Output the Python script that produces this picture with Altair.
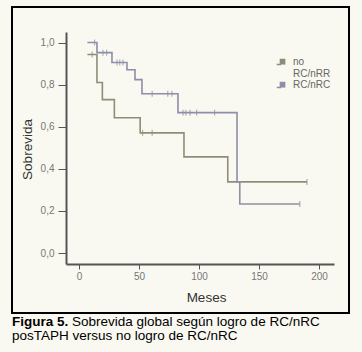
import altair as alt
import pandas as pd

# ---- data ----
series_names = ["no RC/nRR", "RC/nRC"]
series_colors = ["#8e8e78", "#8e8ea8"]

t_no = [7, 15, 19.5, 29.5, 51, 87.5, 124, 190]
s_no = [0.943, 0.81, 0.729, 0.643, 0.571, 0.457, 0.338, 0.338]
cens_no = [11, 53, 61, 190]

t_rc = [7, 15, 27.5, 40, 46.7, 52.5, 82.5, 131.7, 134, 184]
s_rc = [1.0, 0.952, 0.905, 0.871, 0.824, 0.757, 0.667, 0.338, 0.233, 0.233]
cens_rc = [13, 20, 23, 31.7, 34, 36.7, 61, 74, 77.5, 86.7, 89, 92.5, 98, 113, 184]

x_ticks = [0, 50, 100, 150, 200]
y_ticks = [0.0, 0.2, 0.4, 0.6, 0.8, 1.0]

caption_bold = "Figura 5."
caption_1 = "Sobrevida global según logro de RC/nRC"
caption_2 = "posTAPH versus no logro de RC/nRC"


def step_value(ts, ss, t):
    v = ss[0]
    for ti, si in zip(ts, ss):
        if ti <= t:
            v = si
    return v


rows = []
for name, ts, ss in [(series_names[0], t_no, s_no), (series_names[1], t_rc, s_rc)]:
    for t, s in zip(ts, ss):
        rows.append({"grupo": name, "t": t, "s": s})
lines_df = pd.DataFrame(rows)

crows = []
for name, ts, ss, cs in [(series_names[0], t_no, s_no, cens_no), (series_names[1], t_rc, s_rc, cens_rc)]:
    for c in cs:
        crows.append({"grupo": name, "t": c, "s": step_value(ts, ss, c)})
cens_df = pd.DataFrame(crows)

font = "Liberation Sans"

xscale = alt.Scale(domain=[-10.8, 212.5], nice=False, zero=False)
yscale = alt.Scale(domain=[-0.052, 1.05], nice=False, zero=False)
color = alt.Color(
    "grupo:N",
    scale=alt.Scale(domain=series_names, range=series_colors),
    legend=alt.Legend(
        title=None,
        orient="none",
        legendX=210,
        legendY=24,
        symbolType="M-1,0.5L-0.3,0.5L-0.3,-0.5L0.5,-0.5L0.5,0.5",
        symbolSize=110,
        symbolStrokeWidth=1.5,
        symbolFillColor="transparent",
        labelFont=font,
        labelFontSize=10,
        labelColor="#666666",
        labelExpr="datum.label == 'no RC/nRR' ? ['no', 'RC/nRR'] : datum.label",
        rowPadding=0,
        labelOffset=5,
    ),
)

x_enc = alt.X(
    "t:Q",
    scale=xscale,
    axis=alt.Axis(
        values=x_ticks,
        title="Meses",
        titleX=140,
        titleY=37,
        titleAnchor=None,
        titleBaseline="alphabetic",
        grid=False,
    ),
)
y_enc = alt.Y(
    "s:Q",
    scale=yscale,
    axis=alt.Axis(
        values=y_ticks,
        labelExpr="replace(format(datum.value, '.1f'), '.', ',')",
        title="Sobrevida",
        titleX=-39,
        titleY=117,
        titleAngle=-90,
        titleAlign="center",
        titleBaseline="middle",
        grid=False,
    ),
)

lines = alt.Chart(lines_df).mark_line(interpolate="step-after", strokeWidth=1.6).encode(
    x=x_enc, y=y_enc, color=color, detail="grupo:N"
)

cens = alt.Chart(cens_df).mark_tick(orient="vertical", size=6, thickness=1.2).encode(
    x="t:Q", y="s:Q", color=alt.Color("grupo:N", legend=None)
)

one = alt.Data(values=[{"a": 1}])
frame = alt.Chart(one).mark_rect(fillOpacity=0, stroke="black", strokeWidth=2).encode(
    x=alt.value(-54), x2=alt.value(283), y=alt.value(-25), y2=alt.value(281)
)
cap_b = alt.Chart(one).mark_text(
    text=caption_bold, font=font, fontSize=13.5, fontWeight="bold", align="left", baseline="alphabetic", color="#000"
).encode(x=alt.value(-54), y=alt.value(294))
cap_1 = alt.Chart(one).mark_text(
    text=caption_1, font=font, fontSize=13.5, align="left", baseline="alphabetic", color="#000"
).encode(x=alt.value(6), y=alt.value(294))
cap_2 = alt.Chart(one).mark_text(
    text=caption_2, font=font, fontSize=13.5, align="left", baseline="alphabetic", color="#000"
).encode(x=alt.value(-54), y=alt.value(308))

chart = alt.layer(frame, lines, cens, cap_b, cap_1, cap_2).properties(
    width=268,
    height=232,
    autosize=alt.AutoSizeParams(type="none"),
    padding={"left": 66, "top": 32, "right": 28, "bottom": 88},
    background="#f9f9f1",
).configure_view(stroke=None).configure_axis(
    domainColor="#555555",
    domainWidth=2,
    tickColor="#555555",
    tickWidth=1,
    labelFont=font,
    labelFontSize=10,
    labelColor="#777777",
    titleFont=font,
    titleFontSize=13.5,
    titleFontWeight="normal",
    titleColor="#333333",
).configure_axisY(tickSize=8, labelPadding=4).configure_axisX(tickSize=5, labelPadding=2)

chart.save("out.html", embed_options={"renderer": "svg", "actions": False})
